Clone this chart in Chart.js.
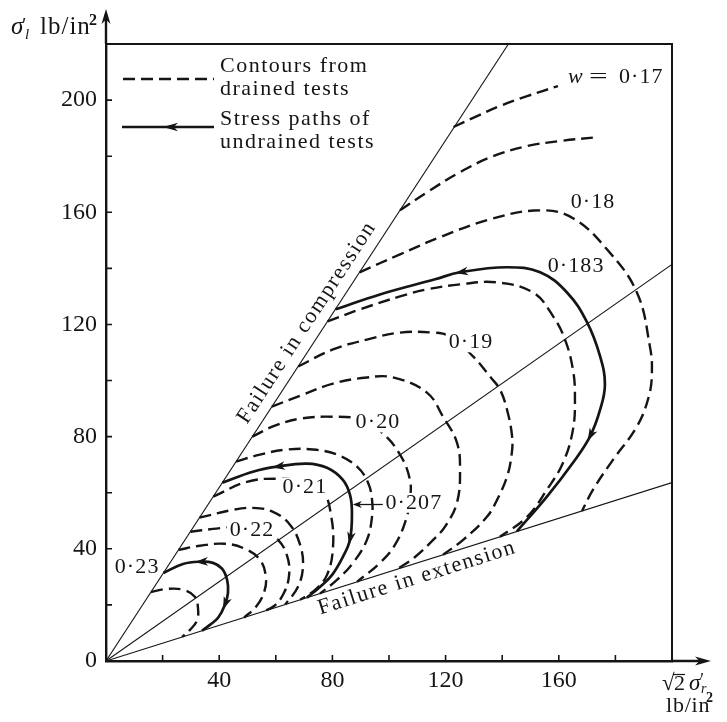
<!DOCTYPE html>
<html>
<head>
<meta charset="utf-8">
<style>html,body{margin:0;padding:0;background:#fff}canvas{display:block}</style>
<script src="https://cdn.jsdelivr.net/npm/chart.js@4"></script>
</head>
<body>
<canvas id="c" width="727" height="722"></canvas>
<script>
// ---------- data (x = √2·σ'r, y = σ'l, lb/in²) ----------
const xTickValues = [0, 20, 40, 60, 80, 100, 120, 140, 160, 180, 200];
const xTickLabels = ['', '', '40', '', '80', '', '120', '', '160', '', ''];
const yTickValues = [0, 20, 40, 60, 80, 100, 120, 140, 160, 180, 200, 220];
const yTickLabels = ['0', '', '40', '', '80', '', '120', '', '160', '', '200', ''];

const failureCompression = [[0, 0], [142.2, 220]];
const isotropicLine = [[0, 0], [200, 141.4]];
const failureExtension = [[0, 0], [200, 63.6]];

const contour017 = [[122.8,190.4],[131.1,194.3],[139.2,197.9],[148.8,201.4],[159.7,205.0]];
const contour0175 = [[103.9,160.7],[113.4,167.1],[125.1,174.3],[136.8,180.0],[148.8,183.6],[160.4,185.4],[173.9,186.8]];
const contour018 = [[89.6,138.6],[103.9,145.0],[118.0,151.1],[135.7,157.5],[153.4,160.7],[165.0,157.9],[177.0,146.8],[187.6,131.4],[192.2,112.1],[192.9,103.0],[191.8,94.3],[187.6,83.6],[179.2,71.8],[172.1,61.1],[168.2,53.5]];
const path0183 = [[81.1,125.4],[96.8,130.7],[116.3,136.1],[125.1,138.6],[141.7,140.4],[153.4,138.6],[162.9,131.4],[170.0,120.7],[174.6,108.6],[176.3,98.6],[174.6,89.6],[171.0,80.0],[165.0,70.7],[155.8,58.6],[145.2,46.2]];
const contour0185 = [[78.3,121.1],[89.8,125.4],[103.9,130.0],[113.4,132.5],[125.1,134.3],[138.0,135.0],[150.9,131.4],[158.0,122.9],[162.2,114.6],[165.0,103.9],[165.7,94.3],[165.0,82.5],[161.5,70.7],[155.8,61.1],[148.8,51.4],[139.2,44.3]];
const contour019 = [[67.9,105.0],[80.2,111.1],[92.2,114.6],[103.9,117.1],[115.6,117.1],[121.6,115.7],[129.7,108.6],[135.7,101.4],[139.2,96.8],[141.7,89.6],[143.5,80.0],[143.3,73.4],[141.7,65.7],[138.2,57.5],[134.6,51.4],[126.2,43.2],[119.1,37.9]];
const contour0195 = [[58.6,90.7],[68.6,94.6],[80.2,98.9],[92.2,101.1],[101.4,101.1],[113.4,95.7],[119.1,87.1],[124.0,77.9],[125.1,68.2],[124.0,56.4],[119.8,47.9],[115.6,43.2],[109.2,37.1],[102.8,32.7]];
const contour020 = [[51.7,80.0],[59.7,83.9],[68.6,86.4],[80.2,87.1],[89.8,86.1],[97.5,81.4],[103.9,73.6],[107.4,64.6],[107.4,57.5],[106.0,50.4],[102.1,41.4],[96.8,35.0],[88.7,28.2]];
const contour0205 = [[46.0,71.1],[54.4,73.6],[64.0,75.4],[73.1,75.4],[81.6,73.6],[88.7,69.3],[92.6,63.6],[94.0,57.5],[94.0,51.4],[92.2,43.2],[87.3,35.0],[81.6,28.9],[75.6,24.0]];
const path0207 = [[41.1,63.6],[51.9,67.5],[60.4,69.3],[71.0,70.4],[78.1,68.9],[83.7,64.6],[86.2,59.3],[86.9,52.9],[86.2,43.2],[83.7,37.1],[79.9,30.7],[75.6,26.4],[71.0,22.6]];
const contour021 = [[37.9,58.6],[49.8,63.9],[60.4,65.0],[70.3,63.9],[76.7,60.4],[79.5,52.1],[80.2,40.4],[78.1,30.7],[73.9,25.4],[68.6,21.8]];
const contour0215 = [[33.0,51.1],[44.9,53.9],[51.9,54.6],[59.0,53.2],[65.0,48.6],[68.6,41.4],[69.6,33.6],[67.8,26.4],[63.3,20.1]];
const contour022 = [[29.8,46.1],[37.8,47.1],[47.4,47.9],[55.1,46.8],[60.8,43.2],[64.0,37.5],[64.7,30.7],[62.9,24.3],[59.4,19.6],[55.1,17.5]];
const contour0225 = [[25.6,39.6],[33.2,41.1],[42.0,41.8],[49.1,40.0],[54.4,36.1],[56.5,30.0],[55.8,24.3],[53.0,19.3],[48.8,15.5]];
const path023 = [[20.3,31.4],[27.2,34.6],[33.2,35.4],[37.8,35.0],[41.0,32.9],[42.8,28.9],[43.1,24.3],[42.0,20.0],[39.6,15.4],[36.7,12.9],[33.9,10.8]];
const contour0235 = [[15.9,24.6],[21.6,25.7],[27.2,25.4],[31.4,22.9],[32.5,18.9],[32.2,14.6],[29.7,11.1],[26.9,8.6]];

const curveLabelText = ['0·18', '0·183', '0·19', '0·20', '0·207', '0·21', '0·22', '0·23'];
const curveLabelX = [172.1, 166.1, 129.0, 96.1, 108.8, 70.3, 51.6, 11.0];
const curveLabelY = [163.6, 140.7, 113.6, 85.0, 56.4, 61.8, 46.8, 33.6];
const curveLabelGap = [false, false, true, true, true, true, true, false];
const pointer0207 = [[97.8, 55.8], [87.2, 55.8]];
const w017Label = { x: 179.5, y: 208.6 };
const compressionTextAt = [71.0, 120.7];
const extensionTextAt = [109.9, 29.6];

// ---------- build ----------
const ink = '#151515';
const serif = '"Liberation Serif", "Times New Roman", serif';
const toPts = arr => arr.map(([x, y]) => ({ x, y }));

function straight(label, arr) {
  return { label, data: toPts(arr), showLine: true, borderColor: ink, borderWidth: 1.1, tension: 0, pointRadius: 0 };
}
function dashed(label, arr) {
  return { label, data: toPts(arr), showLine: true, borderColor: ink, borderWidth: 2.4, borderDash: [12, 6], tension: 0.4, pointRadius: 0 };
}
function solid(label, arr, arrows) {
  return { label, data: toPts(arr), showLine: true, borderColor: ink, borderWidth: 2.7, tension: 0.4, pointRadius: 0, arrows };
}

const datasets = [
  straight('Failure in compression', failureCompression),
  straight('Isotropic', isotropicLine),
  straight('Failure in extension', failureExtension),
  dashed('w=0.17', contour017),
  dashed('w=0.175', contour0175),
  dashed('w=0.18', contour018),
  solid('path 0.183', path0183, [[3, -1], [11, 1]]),
  dashed('w=0.185', contour0185),
  dashed('w=0.19', contour019),
  dashed('w=0.195', contour0195),
  dashed('w=0.20', contour020),
  dashed('w=0.205', contour0205),
  solid('path 0.207', path0207, [[2, -1], [8, 1]]),
  dashed('w=0.21', contour021),
  dashed('w=0.215', contour0215),
  dashed('w=0.22', contour022),
  dashed('w=0.225', contour0225),
  solid('path 0.23', path023, [[2, -1], [7, 1]]),
  dashed('w=0.235', contour0235)
];

function arrowHead(ctx, x, y, ang, len = 13, half = 4.3) {
  ctx.save();
  ctx.translate(x, y);
  ctx.rotate(ang);
  ctx.beginPath();
  ctx.moveTo(0, 0);
  ctx.lineTo(-len, -half);
  ctx.lineTo(-len * 0.72, 0);
  ctx.lineTo(-len, half);
  ctx.closePath();
  ctx.fill();
  ctx.restore();
}
function txt(ctx, s, x, y, size, o = {}) {
  ctx.save();
  ctx.font = (o.italic ? 'italic ' : '') + (o.bold ? 'bold ' : '') + size + 'px ' + serif;
  ctx.fillStyle = ink;
  ctx.textAlign = o.align || 'left';
  ctx.textBaseline = o.baseline || 'alphabetic';
  if ('letterSpacing' in ctx) ctx.letterSpacing = (o.ls != null ? o.ls : 1.1) + 'px';
  if (o.rot) { ctx.translate(x, y); ctx.rotate(o.rot); x = 0; y = 0; }
  const w = ctx.measureText(s).width;
  if (o.box) {
    ctx.fillStyle = '#fff';
    ctx.fillRect(x - w / 2 - 3, y - size * 0.45, w + 6, size * 0.9);
    ctx.fillStyle = ink;
  }
  ctx.fillText(s, x, y);
  ctx.restore();
  return w;
}

const annot = {
  id: 'annot',
  afterDatasetsDraw(chart) {
    const { ctx, chartArea: a, scales: { x, y } } = chart;
    const px = v => x.getPixelForValue(v), py = v => y.getPixelForValue(v);
    ctx.save();
    ctx.fillStyle = ink; ctx.strokeStyle = ink;

    // arrowheads on undrained stress paths
    chart.data.datasets.forEach((ds, i) => {
      if (!ds.arrows) return;
      const pts = chart.getDatasetMeta(i).data;
      ds.arrows.forEach(([k, dir]) => {
        const p0 = pts[k - dir], p1 = pts[k + dir];
        const ang = Math.atan2(p1.y - p0.y, p1.x - p0.x);
        arrowHead(ctx, pts[k].x + Math.cos(ang) * 5, pts[k].y + Math.sin(ang) * 5, ang);
      });
    });

    // curve labels
    curveLabelText.forEach((t, i) => {
      txt(ctx, t, px(curveLabelX[i]), py(curveLabelY[i]), 22, { align: 'center', baseline: 'middle', box: curveLabelGap[i] });
    });
    // pointer for 0·207
    const qx0 = px(pointer0207[0][0]), qy0 = py(pointer0207[0][1]);
    const qx1 = px(pointer0207[1][0]), qy1 = py(pointer0207[1][1]);
    ctx.lineWidth = 1.3;
    ctx.beginPath(); ctx.moveTo(qx0, qy0); ctx.lineTo(qx1 + 4, qy1); ctx.stroke();
    arrowHead(ctx, qx1, qy1, Math.PI, 9, 3.5);

    // w = 0·17
    const wx = px(w017Label.x), wy = py(w017Label.y);
    txt(ctx, 'w', wx - 46, wy + 7, 22, { italic: true, ls: 0 });
    ctx.save();
    ctx.translate(wx - 25, wy + 7); ctx.scale(1.5, 1);
    txt(ctx, '=', 0, 0, 22, { ls: 0 });
    ctx.restore();
    txt(ctx, '0·17', wx + 5, wy + 7, 22);

    // rotated failure texts
    const angC = Math.atan2(py(failureCompression[1][1]) - py(0), px(failureCompression[1][0]) - px(0));
    txt(ctx, 'Failure in compression', px(compressionTextAt[0]), py(compressionTextAt[1]), 22, { align: 'center', baseline: 'middle', rot: angC, ls: 1.6 });
    const angE = Math.atan2(py(failureExtension[1][1]) - py(0), px(failureExtension[1][0]) - px(0));
    txt(ctx, 'Failure in extension', px(extensionTextAt[0]), py(extensionTextAt[1]), 22, { align: 'center', baseline: 'middle', rot: angE, ls: 1.6 });

    // frame (top, right)
    ctx.lineWidth = 2;
    ctx.beginPath();
    ctx.moveTo(a.left, a.top); ctx.lineTo(a.right, a.top); ctx.lineTo(a.right, a.bottom);
    ctx.stroke();
    // axis extensions with arrows
    ctx.lineWidth = 2.4;
    ctx.beginPath();
    ctx.moveTo(a.left, a.top); ctx.lineTo(a.left, 14);
    ctx.moveTo(a.right, a.bottom); ctx.lineTo(704, a.bottom);
    ctx.stroke();
    arrowHead(ctx, a.left, 9, -Math.PI / 2, 15, 4.5);
    arrowHead(ctx, 711, a.bottom, 0, 16, 4.5);

    // inward tick marks
    ctx.lineWidth = 1.6;
    ctx.beginPath();
    xTickValues.forEach(v => { const X = px(v); ctx.moveTo(X, a.bottom); ctx.lineTo(X, a.bottom - 6); });
    yTickValues.forEach(v => { const Y = py(v); ctx.moveTo(a.left, Y); ctx.lineTo(a.left + 6, Y); });
    ctx.stroke();

    // legend
    ctx.lineWidth = 2.4;
    ctx.setLineDash([12, 6]);
    ctx.beginPath(); ctx.moveTo(123, 79); ctx.lineTo(214, 79); ctx.stroke();
    ctx.setLineDash([]);
    ctx.lineWidth = 2.7;
    ctx.beginPath(); ctx.moveTo(122, 127); ctx.lineTo(214, 127); ctx.stroke();
    arrowHead(ctx, 163, 127, Math.PI, 15, 4.3);
    txt(ctx, 'Contours from', 220, 72, 22, { ls: 1.5 });
    txt(ctx, 'drained tests', 220, 95, 22, { ls: 1.5 });
    txt(ctx, 'Stress paths of', 220, 125, 22, { ls: 1.5 });
    txt(ctx, 'undrained tests', 220, 148, 22, { ls: 1.5 });

    // y axis title: σ'l lb/in²
    txt(ctx, 'σ', 11, 34, 25, { italic: true, ls: 0 });
    txt(ctx, "'", 21, 31, 19, { italic: true, ls: 0 });
    txt(ctx, 'l', 25, 39, 15, { italic: true, ls: 0 });
    txt(ctx, 'lb/in', 40, 34, 25, { ls: 1 });
    txt(ctx, '2', 89, 25, 16, { bold: true, ls: 0 });

    // x axis title: √2 σ'r  lb/in²
    txt(ctx, '√', 662, 690, 23, { ls: 0 });
    ctx.lineWidth = 1.2;
    ctx.beginPath(); ctx.moveTo(673, 674.5); ctx.lineTo(685, 674.5); ctx.stroke();
    txt(ctx, '2', 674, 690, 22, { ls: 0 });
    txt(ctx, 'σ', 689, 690, 23, { italic: true, ls: 0 });
    txt(ctx, "'", 699, 686, 18, { italic: true, ls: 0 });
    txt(ctx, 'r', 701, 693, 14, { italic: true, ls: 0 });
    txt(ctx, 'lb/in', 666, 712, 22, { ls: 0.8 });
    txt(ctx, '2', 706, 702, 14, { bold: true, ls: 0 });

    ctx.restore();
  }
};

new Chart(document.getElementById('c'), {
  type: 'scatter',
  data: { datasets },
  options: {
    responsive: false,
    animation: false,
    devicePixelRatio: 1,
    layout: { padding: { left: 0, top: 44, right: 55, bottom: 0 } },
    plugins: { legend: { display: false }, tooltip: { enabled: false } },
    scales: {
      x: {
        type: 'linear', min: 0, max: 200, position: 'bottom',
        afterFit: s => { s.height = 61; },
        grid: { display: false, drawTicks: false },
        border: { display: true, color: ink, width: 2.4 },
        ticks: {
          stepSize: 20, autoSkip: false, maxRotation: 0, padding: 5, color: ink,
          font: { family: serif, size: 24 },
          callback: v => { const i = xTickValues.indexOf(v); return i >= 0 ? xTickLabels[i] : ''; }
        }
      },
      y: {
        type: 'linear', min: 0, max: 220, position: 'left',
        afterFit: s => { s.width = 106; },
        grid: { display: false, drawTicks: false },
        border: { display: true, color: ink, width: 2.4 },
        ticks: {
          stepSize: 20, autoSkip: false, padding: 9, color: ink,
          font: { family: serif, size: 24 },
          callback: v => { const i = yTickValues.indexOf(v); return i >= 0 ? yTickLabels[i] : ''; }
        }
      }
    }
  },
  plugins: [annot]
});
</script>
</body>
</html>
